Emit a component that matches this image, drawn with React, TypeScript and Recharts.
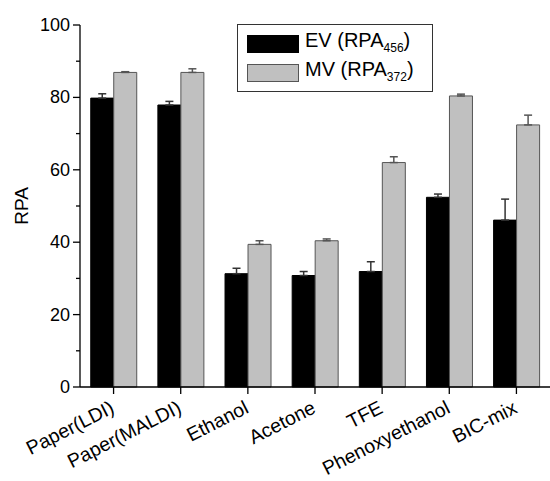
import { BarChart, Bar, XAxis, YAxis, ErrorBar, Legend } from "recharts";

const categories = ["Paper(LDI)", "Paper(MALDI)", "Ethanol", "Acetone", "TFE", "Phenoxyethanol", "BIC-mix"];
const evValues = [79.8, 77.9, 31.3, 30.8, 31.9, 52.4, 46.1];
const evErrors = [1.2, 1.0, 1.5, 1.1, 2.7, 0.9, 5.8];
const mvValues = [86.9, 86.9, 39.4, 40.4, 62.0, 80.4, 72.4];
const mvErrors = [0.2, 1.0, 1.0, 0.5, 1.6, 0.5, 2.7];
const yTicks = [0, 10, 20, 30, 40, 50, 60, 70, 80, 90, 100];
const boundaryTicks = [0, 1, 2, 3, 4, 5, 6, 7];

const data = categories.map((name, i) => ({
  name,
  ev: evValues[i],
  evErr: [0, evErrors[i]],
  mv: mvValues[i],
  mvErr: [0, mvErrors[i]],
  pos: i,
}));

const FONT = "'Liberation Sans', Arial, sans-serif";

const YTick = (props: any) => {
  const { x, y, payload } = props;
  const major = payload.value % 20 === 0;
  const len = major ? 7 : 4;
  return (
    <g>
      <line x1={x - len} y1={y} x2={x} y2={y} stroke="#000" strokeWidth={1.3} />
      {major && (
        <text x={x - len - 3} y={y} textAnchor="end" dominantBaseline="central" fontSize={18} fontFamily={FONT} fill="#000">
          {payload.value}
        </text>
      )}
    </g>
  );
};

const XTick = (props: any) => {
  const { x, y, payload } = props;
  const ty = y + 16;
  return (
    <text
      x={x + 2}
      y={ty}
      textAnchor="end"
      fontSize={19.5}
      fontFamily={FONT}
      fill="#000"
      transform={`rotate(-27, ${x + 2}, ${ty})`}>
      {payload.value}
    </text>
  );
};

const LegendBox = () => {
  const items = [
    { label: "EV (RPA", sub: "456", color: "#000", border: "#000" },
    { label: "MV (RPA", sub: "372", color: "#c0c0c0", border: "#555" },
  ];
  return (
    <div
      style={{
        border: "1px solid #333",
        width: 194,
        height: 66,
        boxSizing: "content-box",
        fontFamily: FONT,
        background: "#fff",
      }}>
      {items.map((it, i) => (
        <div key={i} style={{ display: "flex", alignItems: "center", height: 29, marginTop: i === 0 ? 4 : 0 }}>
          <div
            style={{
              width: 50,
              height: 16,
              background: it.color,
              border: `1px solid ${it.border}`,
              marginLeft: 9,
              marginRight: 6,
            }}
          />
          <span style={{ fontSize: 20, lineHeight: "20px", whiteSpace: "nowrap" }}>
            {it.label}
            <sub style={{ fontSize: 12, verticalAlign: "-5px" }}>{it.sub}</sub>)
          </span>
        </div>
      ))}
    </div>
  );
};

export default function App() {
  return (
    <div style={{ position: "absolute", left: 0, top: 0, width: 550, height: 481, background: "#fff" }}>
      <BarChart
        width={550}
        height={481}
        data={data}
        margin={{ top: 25, right: 0, bottom: 0, left: 0 }}
        barCategoryGap="16%"
        barGap={0}>
        <XAxis
          xAxisId="minor"
          dataKey="pos"
          type="number"
          domain={[0, 7]}
          ticks={boundaryTicks}
          height={0}
          axisLine={false}
          tick={false}
          tickSize={4}
          tickLine={{ stroke: "#000", strokeWidth: 1.3 }}
        />
        <XAxis
          dataKey="name"
          height={94}
          axisLine={{ stroke: "#000", strokeWidth: 1.3 }}
          tickLine={{ stroke: "#000", strokeWidth: 1.3 }}
          tickSize={7}
          interval={0}
          tick={<XTick />}
        />
        <YAxis
          width={80}
          domain={[0, 100]}
          ticks={yTicks}
          interval={0}
          tickSize={0}
          tickMargin={0}
          tickLine={false}
          axisLine={{ stroke: "#000", strokeWidth: 1.3 }}
          tick={<YTick />}
          label={{ value: "RPA", angle: -90, position: "center", dx: -19, fontSize: 19, fontFamily: FONT, fill: "#000" }}
        />
        <Legend
          layout="horizontal"
          verticalAlign="middle"
          align="center"
          content={<LegendBox />}
          wrapperStyle={{ left: 237, top: 24, width: 196 }}
        />
        <Bar dataKey="ev" fill="#000" stroke="#000" strokeWidth={1} isAnimationActive={false}>
          <ErrorBar dataKey="evErr" width={4} stroke="#333" strokeWidth={1.5} isAnimationActive={false} />
        </Bar>
        <Bar dataKey="mv" fill="#c0c0c0" stroke="#555" strokeWidth={1} isAnimationActive={false}>
          <ErrorBar dataKey="mvErr" width={4} stroke="#555" strokeWidth={1.5} isAnimationActive={false} />
        </Bar>
      </BarChart>
    </div>
  );
}
